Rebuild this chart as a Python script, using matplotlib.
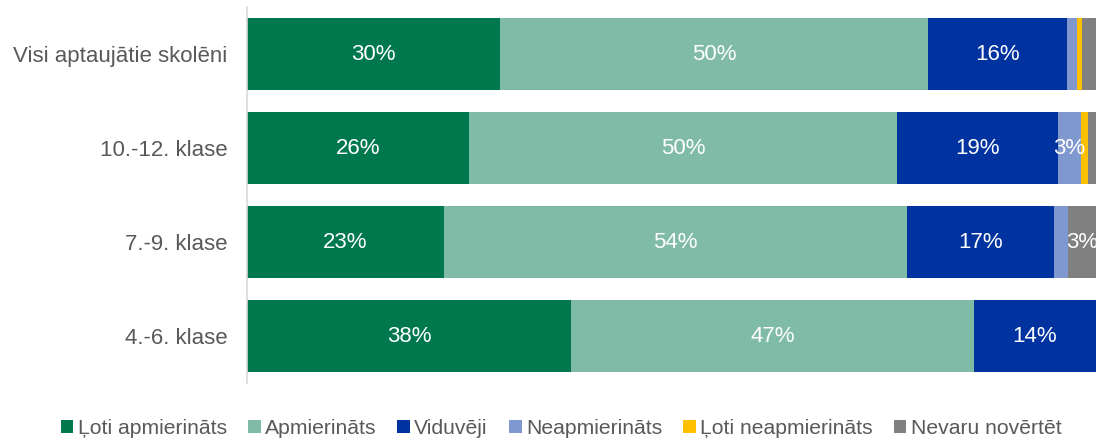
import matplotlib
matplotlib.use("Agg")
import matplotlib.pyplot as plt
from matplotlib.patches import Patch

categories = ["Visi aptaujātie skolēni", "10.-12. klase", "7.-9. klase", "4.-6. klase"]
series = ["Ļoti apmierināts", "Apmierināts", "Viduvēji", "Neapmierināts", "Ļoti neapmierināts", "Nevaru novērtēt"]
loti_apm = [29.8, 26.1, 23.2, 38.2]
apm = [50.4, 50.5, 54.5, 47.4]
viduveji = [16.4, 18.9, 17.4, 14.4]
neapm = [1.2, 2.7, 1.6, 0.0]
loti_neapm = [0.5, 0.9, 0.0, 0.0]
nevaru = [1.7, 0.9, 3.3, 0.0]
colors = ["#00784E", "#7FBBA7", "#0032A0", "#7F98CF", "#FFC000", "#808080"]

values = [loti_apm, apm, viduveji, neapm, loti_neapm, nevaru]

plt.rcParams['font.family'] = ['Liberation Sans', 'DejaVu Sans']
fig = plt.figure(figsize=(10.96, 4.4), dpi=100)
ax = fig.add_axes([247/1096, 1 - 383/440, 1 - 247/1096, 376/440])

y = list(range(len(categories)))
left = [0.0] * len(categories)
for name, vals, col in zip(series, values, colors):
    ax.barh(y, vals, left=left, height=0.766, color=col, label=name)
    for i, v in enumerate(vals):
        if v >= 2.5:
            ax.text(left[i] + v / 2, y[i], f"{round(v):.0f}%", ha="center", va="center",
                    color="white", fontsize=16)
    left = [l + v for l, v in zip(left, vals)]

ax.set_xlim(0, 100)
ax.set_ylim(len(categories) - 0.5, -0.5)
ax.set_yticks(y)
ax.set_yticklabels(categories, fontsize=16, color="#595959")
ax.tick_params(axis="y", length=0, pad=14)
ax.set_xticks([])
for s in ["top", "right", "bottom"]:
    ax.spines[s].set_visible(False)
ax.spines["left"].set_color("#D9D9D9")
ax.spines["left"].set_linewidth(1.2)

handles = [Patch(facecolor=c, label=n) for n, c in zip(series, colors)]
fig.legend(handles=handles, loc="lower center", bbox_to_anchor=(0.512, -0.038), ncol=6, frameon=False,
           fontsize=15.2, labelcolor="#595959", handlelength=0.6, handleheight=0.6,
           handletextpad=0.2, columnspacing=1.0)

fig.savefig("out.png", dpi=100)
